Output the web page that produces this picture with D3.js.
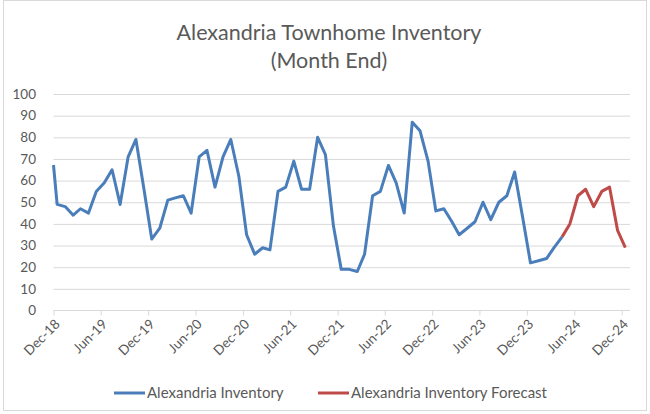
<!DOCTYPE html>
<html>
<head>
<meta charset="utf-8">
<script src="https://cdn.jsdelivr.net/npm/d3@7.9.0/dist/d3.min.js"></script>
<style>
  body { margin: 0; background: #fff; }
  svg { display: block; font-family: Lato, "Open Sans", sans-serif; }
</style>
</head>
<body>
<div id="chart"></div>
<script>
// Monthly values, first month is Nov-18 (it sits left of the axis and is cut off)
const firstMonth = new Date(2018, 10, 15);
const inventory = [88, 49, 48, 44, 47, 45, 55, 59, 65, 49, 71, 79, 56, 33, 38, 51,
  52, 53, 45, 71, 74, 57, 71, 79, 62, 35, 26, 29, 28, 55, 57, 69, 56, 56, 80, 72,
  39, 19, 19, 18, 26, 53, 55, 67, 59, 45, 87, 83, 69, 46, 47, 41, 35, 38, 41, 50,
  42, 50, 53, 64, 43, 22, 23, 24, 29, 34];
// Forecast starts on the last actual month (Apr-24)
const forecastStart = new Date(2024, 3, 15);
const forecast = [34, 40, 53, 56, 48, 55, 57, 37, 29];

const yTicks = [0, 10, 20, 30, 40, 50, 60, 70, 80, 90, 100];
const seriesNames = ['Alexandria Inventory', 'Alexandria Inventory Forecast'];
const colors = ['#4a7ebb', '#be4b48'];

const width = 650;
const height = 414;
const plot = { left: 53.5, right: 630, top: 94, bottom: 310.5 };

const axisStart = new Date(2018, 11, 1);
const axisEnd = new Date(2025, 0, 2);

const toRows = (start, values) =>
  values.map((v, i) => ({ date: d3.timeMonth.offset(start, i), value: v }));

// cut a series at the axis start, like the spreadsheet does
function cutAtStart(rows) {
  const k = rows.findIndex((d) => d.date >= axisStart);
  if (k <= 0) return rows;
  const a = rows[k - 1];
  const b = rows[k];
  const t = (axisStart - a.date) / (b.date - a.date);
  return [{ date: axisStart, value: d3.interpolateNumber(a.value, b.value)(t) }, ...rows.slice(k)];
}

const actualRows = cutAtStart(toRows(firstMonth, inventory));
const forecastRows = toRows(forecastStart, forecast);

const svg = d3.select('#chart').append('svg')
  .attr('width', width)
  .attr('height', height);

// chart area border
svg.append('rect')
  .attr('x', 3.5).attr('y', 0.5)
  .attr('width', 643).attr('height', 410)
  .attr('fill', '#fff')
  .attr('stroke', '#d9d9d9');

const xScale = d3.scaleTime().domain([axisStart, axisEnd]).range([plot.left, plot.right]);
const yScale = d3.scaleLinear().domain([0, 100]).range([plot.bottom, plot.top]);
const xTicks = d3.range(0, 13).map((k) => d3.timeMonth.offset(axisStart, k * 6));

// title
const title = svg.append('text')
  .attr('text-anchor', 'middle')
  .attr('fill', '#595959')
  .style('font-size', '21.5px');
title.append('tspan').attr('x', 329).attr('y', 40).text('Alexandria Townhome Inventory');
title.append('tspan').attr('x', 329).attr('y', 68).text('(Month End)');

// gridlines
svg.append('g')
  .attr('transform', `translate(${plot.left},0)`)
  .call(d3.axisLeft(yScale).tickValues(yTicks.slice(1)).tickSize(-(plot.right - plot.left)).tickFormat(''))
  .call((g) => g.select('.domain').remove())
  .call((g) => g.selectAll('line').attr('stroke', '#d9d9d9'));

// y labels
svg.append('g')
  .selectAll('text')
  .data(yTicks)
  .join('text')
  .attr('x', 36)
  .attr('y', (d) => yScale(d))
  .attr('dy', '0.35em')
  .attr('text-anchor', 'end')
  .attr('fill', '#595959')
  .style('font-size', '13.5px')
  .text((d) => d);

// x axis
const xAxis = svg.append('g')
  .attr('transform', `translate(0,${plot.bottom})`)
  .call(d3.axisBottom(xScale).tickValues(xTicks).tickSize(5).tickFormat(''));
xAxis.select('.domain').attr('stroke', '#d9d9d9').attr('d', `M${plot.left},0H${plot.right}`);
xAxis.selectAll('line').attr('stroke', '#d9d9d9');

svg.append('g')
  .selectAll('text')
  .data(xTicks)
  .join('text')
  .attr('transform', (d) => `translate(${xScale(d) + 4},${plot.bottom + 11}) rotate(-45)`)
  .attr('text-anchor', 'end')
  .attr('dy', '0.35em')
  .attr('fill', '#595959')
  .style('font-size', '13.5px')
  .text(d3.timeFormat('%b-%y'));

// lines
const line = d3.line().x((d) => xScale(d.date)).y((d) => yScale(d.value));
[actualRows, forecastRows].forEach((rows, i) => {
  svg.append('path')
    .datum(rows)
    .attr('d', line)
    .attr('fill', 'none')
    .attr('stroke', colors[i])
    .attr('stroke-width', 3)
    .attr('stroke-linejoin', 'round');
});

// legend
const legendX = [114, 318];
const legend = svg.append('g')
  .selectAll('g')
  .data(seriesNames)
  .join('g')
  .attr('transform', (d, i) => `translate(${legendX[i]},393)`);
legend.append('line')
  .attr('x1', 0).attr('x2', 31)
  .attr('stroke', (d, i) => colors[i])
  .attr('stroke-width', 3);
legend.append('text')
  .attr('x', 33)
  .attr('dy', '0.35em')
  .attr('fill', '#595959')
  .style('font-size', '15px')
  .text((d) => d);
</script>
</body>
</html>
